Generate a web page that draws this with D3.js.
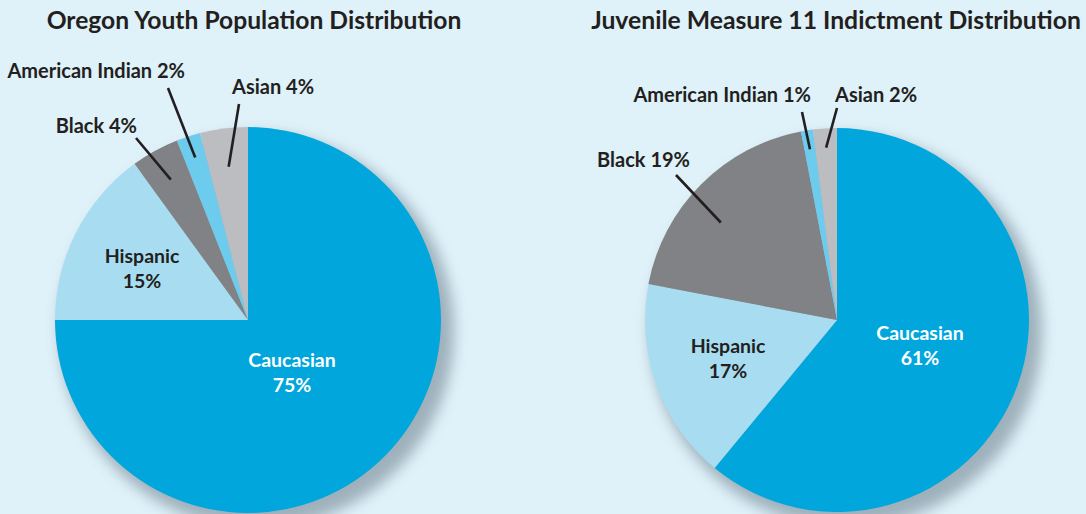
<!DOCTYPE html>
<html>
<head>
<meta charset="utf-8">
<script src="https://cdn.jsdelivr.net/npm/d3@7"></script>
<style>
  html, body { margin: 0; padding: 0; background: #dff1f9; }
  svg { display: block; }
  text { font-family: Lato, "Open Sans", sans-serif; font-weight: 700; fill: #231f20; }
</style>
</head>
<body>
<div id="chart"></div>
<script>
// Data
const categories = ["Caucasian", "Hispanic", "Black", "American Indian", "Asian"];
const youthValues = [75, 15, 4, 2, 4];
const indictmentValues = [61, 17, 19, 1, 2];
const chartTitles = ["Oregon Youth Population Distribution", "Juvenile Measure 11 Indictment Distribution"];

const colors = d3.scaleOrdinal()
  .domain(categories)
  .range(["#00a6dc", "#a8ddf1", "#808285", "#6dcbee", "#bbbdc0"]);

const width = 1086, height = 514;

const svg = d3.select("#chart").append("svg")
  .attr("width", width)
  .attr("height", height);

// soft drop shadow under each pie
const defs = svg.append("defs");
defs.append("filter")
  .attr("id", "shadow")
  .attr("x", "-30%").attr("y", "-30%")
  .attr("width", "160%").attr("height", "160%")
  .append("feGaussianBlur")
  .attr("stdDeviation", 7);

// layout for each pie: centre, radius, title, and label placement (offsets from centre)
const pies = [
  {
    values: youthValues, title: chartTitles[0], cx: 248, cy: 320, r: 193,
    titleX: 254, titleW: 415,
    inside: { Caucasian: [44, 47, "#ffffff"], Hispanic: [-106, -57, "#231f20"] },
    outside: {
      Black: { text: [-111, -187, "end"], lineOut: [-112, -182], inner: 0.83 },
      "American Indian": { text: [-63, -242, "end"], lineOut: [-80, -232], inner: 0.885 },
      Asian: { text: [-16, -226, "start"], lineOut: [-9, -216], inner: 0.8 }
    }
  },
  {
    values: indictmentValues, title: chartTitles[1], cx: 837, cy: 320, r: 192,
    titleX: 836, titleW: 490,
    inside: { Caucasian: [83, 20, "#ffffff"], Hispanic: [-109, 33, "#231f20"] },
    outside: {
      Black: { text: [-147, -153, "end"], lineOut: [-161, -145], inner: 0.79, shift: -5 },
      "American Indian": { text: [-26, -218, "end"], lineOut: [-35, -208], inner: 0.9 },
      Asian: { text: [-2, -218, "start"], lineOut: [0, -212], inner: 0.9 }
    }
  }
];

const pie = d3.pie().sort(null).value(d => d.value);

pies.forEach(p => {
  const data = categories.map((c, i) => ({ name: c, value: p.values[i] }));
  const arcs = pie(data);
  const arc = d3.arc().innerRadius(0).outerRadius(p.r);

  const g = svg.append("g").attr("transform", `translate(${p.cx},${p.cy})`);

  g.append("circle")
    .attr("cx", 9).attr("cy", 11)
    .attr("r", p.r + 4)
    .attr("fill", "#93a6b1")
    .attr("opacity", 0.85)
    .attr("filter", "url(#shadow)");

  g.selectAll("path.slice")
    .data(arcs)
    .join("path")
    .attr("class", "slice")
    .attr("d", arc)
    .attr("fill", d => colors(d.data.name));

  // labels inside the big slices
  arcs.filter(d => p.inside[d.data.name]).forEach(d => {
    const [x, y, fill] = p.inside[d.data.name];
    const t = g.append("text")
      .attr("text-anchor", "middle")
      .attr("font-size", "19.5px")
      .style("fill", fill);
    t.append("tspan").attr("x", x).attr("y", y).text(d.data.name);
    t.append("tspan").attr("x", x).attr("y", y + 25).text(d.data.value + "%");
  });

  // leader lines and labels for the small slices
  arcs.filter(d => p.outside[d.data.name]).forEach(d => {
    const o = p.outside[d.data.name];
    const mid = (d.startAngle + d.endAngle) / 2 + (o.shift || 0) * Math.PI / 180;
    const ri = p.r * o.inner;
    g.append("line")
      .attr("x1", Math.sin(mid) * ri)
      .attr("y1", -Math.cos(mid) * ri)
      .attr("x2", o.lineOut[0])
      .attr("y2", o.lineOut[1])
      .attr("stroke", "#231f20")
      .attr("stroke-width", 2.6);
    g.append("text")
      .attr("x", o.text[0])
      .attr("y", o.text[1])
      .attr("text-anchor", o.text[2])
      .attr("font-size", "20px")
      .text(`${d.data.name} ${d.data.value}%`);
  });

  // title, sized to the width it has in the reference
  const title = svg.append("text")
    .attr("x", p.titleX)
    .attr("y", 29)
    .attr("text-anchor", "middle")
    .attr("font-size", "24px")
    .text(p.title);
  const w = title.node().getComputedTextLength();
  title.attr("font-size", (24 * p.titleW / w).toFixed(2) + "px");
});
</script>
</body>
</html>
